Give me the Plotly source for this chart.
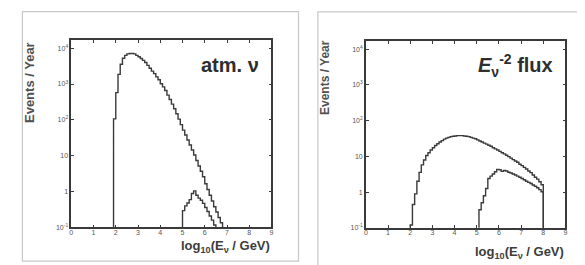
import numpy as np
import plotly.graph_objects as go

# ---------------- data (events / year per 0.1 bin in log10(E/GeV)) ----------------
bin_width = 0.1

atm_total_start = 1.9
atm_total = [107, 575, 1860, 3550, 5250, 6310, 6920, 7080, 7080, 6920,
             6310, 5750, 5130, 4570, 3980, 3310, 2750, 2290, 1950, 1580,
             1320, 1020, 832, 661, 490, 372, 275, 204, 148, 105,
             74, 52, 38, 27.5, 20, 14.5, 10.5, 7.4, 5.2, 3.7,
             2.6, 1.66, 1.15, 0.79, 0.55, 0.38, 0.27, 0.19, 0.135]

atm_high_start = 5.0
atm_high = [0.295, 0.40, 0.48, 0.60, 0.89, 1.05, 0.79, 0.66, 0.575, 0.47,
            0.36, 0.28, 0.21, 0.16, 0.117]

e2_total_start = 2.0
e2_total = [0.12, 0.45, 0.89, 2.0, 3.55, 5.75, 7.9, 10.5, 12.6, 15.1,
            17.4, 20.0, 22.4, 25.1, 27.5, 30.2, 32.4, 33.9, 35.5, 36.3,
            37.2, 38.0, 38.0, 38.0, 37.2, 36.3, 35.5, 33.9, 32.4, 30.9,
            28.8, 26.9, 25.1, 23.4, 21.9, 20.4, 19.1, 17.4, 16.2, 15.1,
            13.8, 12.6, 11.7, 10.7, 9.8, 8.9, 8.1, 7.4, 6.8, 6.0,
            5.5, 4.9, 4.4, 3.9, 3.5, 3.0, 2.6, 2.3, 1.95, 1.6]

e2_high_start = 5.1
e2_high = [0.32, 0.50, 0.79, 1.26, 2.4, 2.8, 3.2, 3.7, 4.3, 4.2,
           3.8, 4.0, 3.9, 3.6, 3.4, 3.2, 3.0, 2.8, 2.6, 2.4,
           2.2, 2.0, 1.86, 1.74, 1.58, 1.45, 1.32, 1.17, 1.02]

x_ticks = [0, 1, 2, 3, 4, 5, 6, 7, 8, 9]
y_tickvals = [0.1, 1, 10, 100, 1000, 10000]
y_ticktext = ["10<sup>-1</sup>", "1", "10", "10<sup>2</sup>", "10<sup>3</sup>", "10<sup>4</sup>"]

FLOOR = 1e-3  # below the axis range: draws the histogram's outer edges down to the frame

W, H = 585, 265
LINE = "#3a3a3a"
TXT = "#3c3c3c"


def px(x):
    return x / W


def py(y):
    return 1 - y / H


def step_trace(start, vals, xa, ya):
    n = len(vals)
    edges = list(np.round(start + bin_width * np.arange(n + 1), 3))
    xs = [edges[0]] + edges[:-1] + [edges[-1]]
    ys = [FLOOR] + list(vals) + [FLOOR]
    return go.Scatter(x=xs, y=ys, mode="lines", line=dict(shape="hv", color=LINE, width=1.4),
                      xaxis=xa, yaxis=ya, showlegend=False, hoverinfo="skip")


fig = go.Figure()
fig.add_trace(step_trace(atm_total_start, atm_total, "x", "y"))
fig.add_trace(step_trace(atm_high_start, atm_high, "x", "y"))
fig.add_trace(step_trace(e2_total_start, e2_total, "x2", "y2"))
fig.add_trace(step_trace(e2_high_start, e2_high, "x2", "y2"))

xaxis_common = dict(range=[0, 9], tickvals=x_ticks, ticks="inside", ticklen=3, tickcolor=LINE,
                    showline=True, linecolor=LINE, linewidth=1.5, mirror="ticks",
                    showgrid=False, zeroline=False, ticklabelstandoff=-3,
                    tickfont=dict(family="Liberation Sans, Arial", size=7, color="#555"))
yaxis_common = dict(type="log", range=[-1, 4.23], tickvals=y_tickvals, ticktext=y_ticktext,
                    ticks="inside", ticklen=3, tickcolor=LINE,
                    showline=True, linecolor=LINE, linewidth=1.5, mirror="ticks",
                    showgrid=False, zeroline=False,
                    tickfont=dict(family="Liberation Sans, Arial", size=7, color="#555"))

fig.update_layout(
    width=W, height=H, margin=dict(l=0, r=0, t=0, b=0),
    paper_bgcolor="white", plot_bgcolor="white",
    xaxis=dict(domain=[px(61.7), px(263.3)], anchor="y", **xaxis_common),
    yaxis=dict(domain=[py(222), py(32.3)], anchor="x", **yaxis_common),
    xaxis2=dict(domain=[px(358.3), px(559.3)], anchor="y2", **xaxis_common),
    yaxis2=dict(domain=[py(222.3), py(33.3)], anchor="x2", **yaxis_common),
)

# outer panel frames
fig.add_shape(type="rect", xref="paper", yref="paper", x0=px(12.5), x1=px(290.5), y0=py(256), y1=py(3.7),
              line=dict(color="#c8c8c8", width=1.2))
fig.add_shape(type="rect", xref="paper", yref="paper", x0=px(310), x1=px(584), y0=py(264), y1=py(4),
              line=dict(color="#c8c8c8", width=1.2))

FONT = "Liberation Sans, Arial"
ann = []
ann.append(dict(x=px(19), y=py(75), xanchor="center", yanchor="middle", text="<b>Events / Year</b>",
                textangle=-90, showarrow=False, xref="paper", yref="paper",
                font=dict(family=FONT, size=13, color="#505050")))
ann.append(dict(x=px(317), y=py(70), xanchor="center", yanchor="middle", text="<b>Events / Year</b>",
                textangle=-90, showarrow=False, xref="paper", yref="paper",
                font=dict(family=FONT, size=12, color="#505050")))
ann.append(dict(x=px(264), y=py(241), xanchor="right", yanchor="middle",
                text="<b>log<sub>10</sub>(E<sub>ν</sub> / GeV)</b>",
                showarrow=False, xref="paper", yref="paper", font=dict(family=FONT, size=13, color=TXT)))
ann.append(dict(x=px(560), y=py(247), xanchor="right", yanchor="middle",
                text="<b>log<sub>10</sub>(E<sub>ν</sub> / GeV)</b>",
                showarrow=False, xref="paper", yref="paper", font=dict(family=FONT, size=13, color=TXT)))
ann.append(dict(x=px(253), y=py(58), xanchor="right", yanchor="middle", text="<b>atm. ν</b>",
                showarrow=False, xref="paper", yref="paper", font=dict(family=FONT, size=20, color="#2e2e2e")))
ann.append(dict(x=px(549), y=py(58), xanchor="right", yanchor="middle",
                text="<b><i>E</i><sub>ν</sub><sup>-2</sup> flux</b>",
                showarrow=False, xref="paper", yref="paper", font=dict(family=FONT, size=20, color="#2e2e2e")))
fig.update_layout(annotations=ann)

fig.write_html("out.html")
